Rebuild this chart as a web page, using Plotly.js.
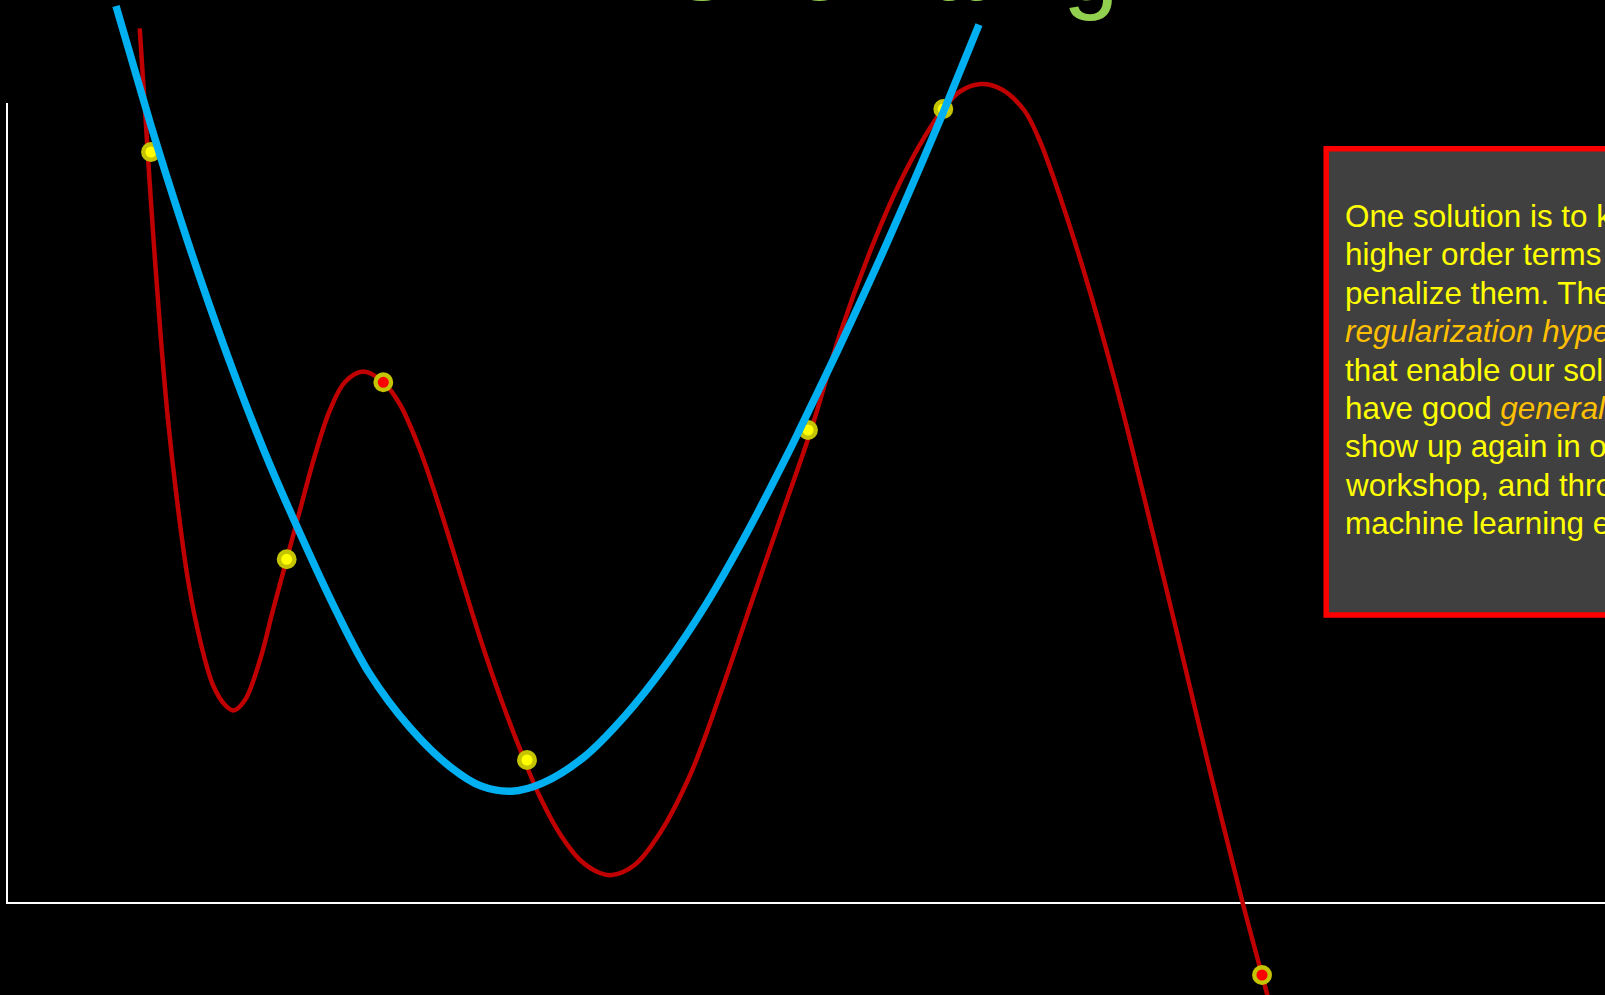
<!DOCTYPE html>
<html>
<head>
<meta charset="utf-8">
<script src="https://cdn.plot.ly/plotly-3.0.1.min.js"></script>
<style>
  html, body { margin: 0; padding: 0; background: #000; overflow: hidden; }
  #chart { width: 1605px; height: 995px; }
</style>
</head>
<body>
<div id="chart"></div>
<script>
// ---- data ----
const titleText = "Overfitting";

// over-fitted (high-order) curve, red
const redX = [1.327, 1.387, 1.425, 1.480, 1.540, 1.610, 1.700, 1.810, 1.930, 2.060, 2.180, 2.264,
  2.380, 2.530, 2.660, 2.797, 2.930, 3.080, 3.230, 3.380, 3.564, 3.763, 3.930, 4.130, 4.330,
  4.530, 4.730, 4.930, 5.170, 5.330, 5.530, 5.730, 5.930, 6.050, 6.276, 6.530, 6.840, 7.150,
  7.450, 7.760, 8.040, 8.330, 8.630, 8.930, 9.180, 9.363, 9.530, 9.736, 9.940, 10.170, 10.320,
  10.470, 10.780, 11.090, 11.390, 11.700, 12.010, 12.357, 12.550, 12.630];
const redY = [8.747, 7.830, 7.230, 6.430, 5.630, 4.830, 4.030, 3.230, 2.630, 2.180, 1.980, 1.926,
  2.030, 2.430, 2.930, 3.437, 3.930, 4.480, 4.930, 5.210, 5.314, 5.207, 4.985, 4.530, 3.942,
  3.297, 2.652, 2.064, 1.438, 1.060, 0.690, 0.430, 0.300, 0.280, 0.380, 0.700, 1.300, 2.140,
  3.020, 3.920, 4.730, 5.690, 6.513, 7.207, 7.669, 7.940, 8.115, 8.190, 8.140, 7.930, 7.640,
  7.240, 6.280, 5.180, 3.980, 2.700, 1.400, 0.000, -0.720, -1.020];

// smoother (low-order) curve, blue
const blueX = [1.090, 1.440, 1.595, 1.930, 2.280, 2.580, 2.915, 3.308, 3.615, 4.024, 4.434, 4.741,
  5.048, 5.355, 5.765, 6.174, 6.583, 6.993, 7.402, 7.812, 7.920, 8.324, 8.733, 9.142, 9.376, 9.720];
const blueY = [8.970, 7.773, 7.272, 6.250, 5.270, 4.500, 3.730, 2.888, 2.310, 1.760, 1.360, 1.169,
  1.118, 1.199, 1.455, 1.865, 2.377, 2.991, 3.707, 4.500, 4.720, 5.562, 6.450, 7.387, 7.940, 8.783];

// sample points
const pointX = [1.44, 2.797, 3.763, 5.20, 8.01, 9.363, 12.55];
const pointY = [7.51, 3.437, 5.207, 1.43, 4.73, 7.94, -0.72];
const pointFill = ["#ffff00", "#ffff00", "#ff0000", "#ffff00", "#ffff00", "#ffff00", "#ff0000"];

// text box lines
const boxLines = [
  "One solution is to keep the",
  "higher order terms but",
  "penalize them. These are",
  "<i><span style=\"color:#ffc000\">regularization hyperparameters</span></i>",
  "that enable our solution to",
  "have good <i><span style=\"color:#ffc000\">generalization</span></i>. They'll",
  "show up again in our",
  "workshop, and throughout",
  "machine learning examples."
];

// ---- drawing ----
const W = 1605, H = 995;
const traces = [
  { x: redX, y: redY, type: "scatter", mode: "lines",
    line: { color: "#c00000", width: 4.5, shape: "spline", smoothing: 1 }, hoverinfo: "skip" },
  { x: pointX, y: pointY, type: "scatter", mode: "markers", cliponaxis: false,
    marker: { size: 15.5, color: pointFill, line: { color: "#c4c400", width: 4.4 } }, hoverinfo: "skip" },
  { x: blueX, y: blueY, type: "scatter", mode: "lines",
    line: { color: "#00b0f0", width: 7.5, shape: "spline", smoothing: 0.9 }, hoverinfo: "skip" }
];

const annotations = [];
annotations.push({
  text: titleText, xref: "paper", yref: "paper",
  x: 891 / W, y: 1 - 22.7 / H, xanchor: "center", yanchor: "bottom",
  showarrow: false, font: { family: "Liberation Sans, Arial, sans-serif", size: 100, color: "#92d050" }
});
boxLines.forEach(function (t, i) {
  const baseline = 228.3 + 38.4 * i;
  annotations.push({
    text: t, xref: "paper", yref: "paper",
    x: 1342.5 / W, y: 1 - (baseline + 7.6) / H, xanchor: "left", yanchor: "bottom", align: "left",
    showarrow: false, font: { family: "Liberation Sans, Arial, sans-serif", size: 31.4, color: "#ffff00" }
  });
});

const axisStyle = { showgrid: false, zeroline: false, showticklabels: false, showline: false, ticks: "", fixedrange: true };
const layout = {
  width: W, height: H,
  margin: { l: 0, r: 0, t: 0, b: 0, pad: 0 },
  paper_bgcolor: "#000000", plot_bgcolor: "#000000",
  showlegend: false,
  xaxis: Object.assign({ range: [-0.07, 15.98] }, axisStyle),
  yaxis: Object.assign({ range: [-0.92, 9.03] }, axisStyle),
  shapes: [
    { type: "line", xref: "x", yref: "y", x0: -0.01, x1: 17, y0: 0, y1: 0,
      line: { color: "#ffffff", width: 2 }, layer: "below" },
    { type: "line", xref: "x", yref: "y", x0: 0, x1: 0, y0: 0, y1: 8,
      line: { color: "#ffffff", width: 2 }, layer: "below" },
    { type: "rect", xref: "paper", yref: "paper", x0: 1326.2 / W, x1: 1.3,
      y0: 1 - 615 / H, y1: 1 - 148.8 / H,
      fillcolor: "#404040", line: { color: "#ff0000", width: 5.5 }, layer: "above" }
  ],
  annotations: annotations
};

Plotly.newPlot("chart", traces, layout, { staticPlot: true, displayModeBar: false });
</script>
</body>
</html>
